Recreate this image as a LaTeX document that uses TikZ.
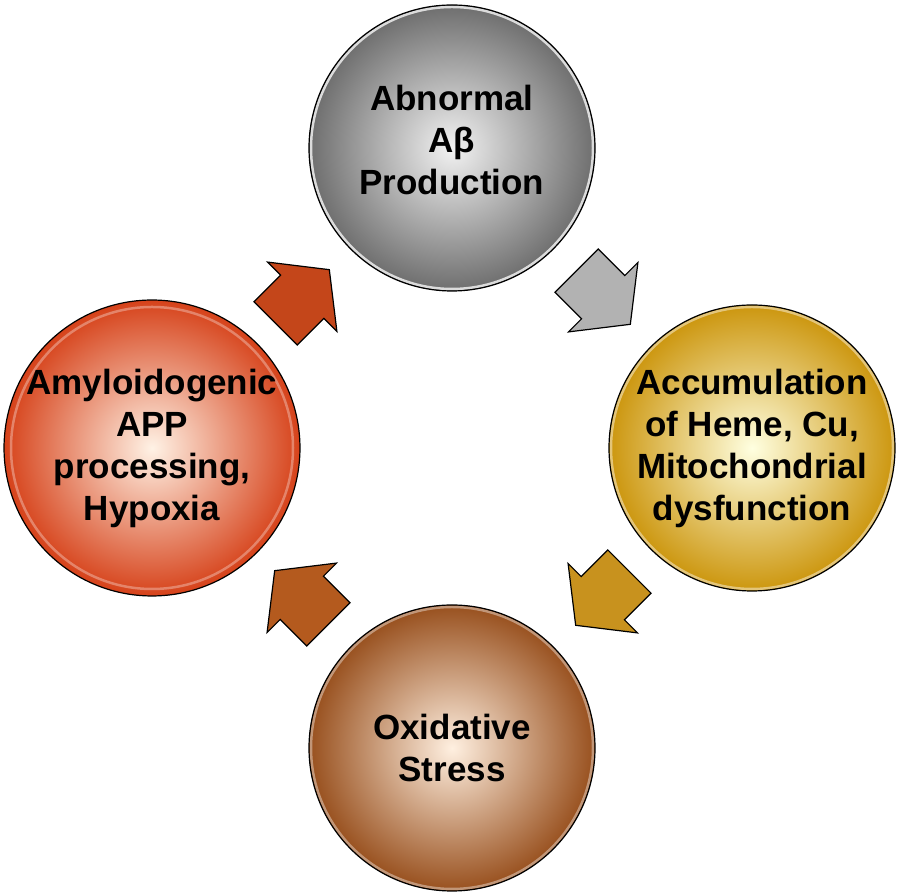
\documentclass[tikz,border=0pt]{standalone}
\usepackage{fontspec}
\setmainfont{Liberation Sans}
\usetikzlibrary{shapes.arrows,positioning}
\definecolor{greyedge}{RGB}{110,110,110}
\definecolor{greyarrow}{RGB}{178,178,178}
\definecolor{goldedge}{RGB}{204,150,14}
\definecolor{goldarrow}{RGB}{200,146,30}
\definecolor{redge}{RGB}{214,66,26}
\definecolor{rarrow}{RGB}{196,70,26}
\definecolor{brownedge}{RGB}{152,80,30}
\definecolor{brownarrow}{RGB}{180,90,30}
\tikzset{%
	bubble/.style    = {circle, draw=black, line width=1.2pt, minimum size=286pt, inner sep=0pt, align=center, font=\fontsize{35}{42}\selectfont\bfseries}, % Stage
	rim/.style       = {path picture={\draw[#1, line width=2.5pt] (path picture bounding box.center) circle[radius=141pt];}},
	blockarrow/.style= {single arrow, draw=black, line width=1.2pt, minimum height=76pt, inner xsep=0pt, inner ysep=30pt, single arrow head extend=18.5pt, single arrow tip angle=104}, % Step
}
\begin{document}
\begin{tikzpicture}[x=1pt,y=1pt,node distance=300pt]
		\useasboundingbox (0,0) rectangle (900,896);
		\coordinate (c) at (452,448);
		\node [bubble,inner color=white!95!black,outer color=greyedge,rim=white!75!greyedge,text depth=16pt] (abeta) [above of=c] {Abnormal\\Aβ\\Production};
		\node [bubble,inner color=yellow!12!white,outer color=goldedge,rim=white!45!goldedge] (heme) [right of=c] {Accumulation\\of Heme, Cu,\\Mitochondrial\\dysfunction};
		\node [bubble,inner color=orange!12!white,outer color=brownedge,rim=white!40!brownedge] (ox) [below of=c] {Oxidative\\Stress};
		\node [bubble,inner color=orange!10!white,outer color=redge,rim=white!35!redge] (app) [left of=c] {Amyloidogenic\\APP\\processing,\\Hypoxia};
		
		\node [blockarrow,fill=rarrow,rotate=45] (a1) at (294,591) {};
		\node [blockarrow,fill=greyarrow,rotate=-45] (a2) at (595,607) {};
		\node [blockarrow,fill=goldarrow,rotate=-135] (a3) at (611,306) {};
		\node [blockarrow,fill=brownarrow,rotate=135] (a4) at (310,290) {};
		\end{tikzpicture}
\end{document}
